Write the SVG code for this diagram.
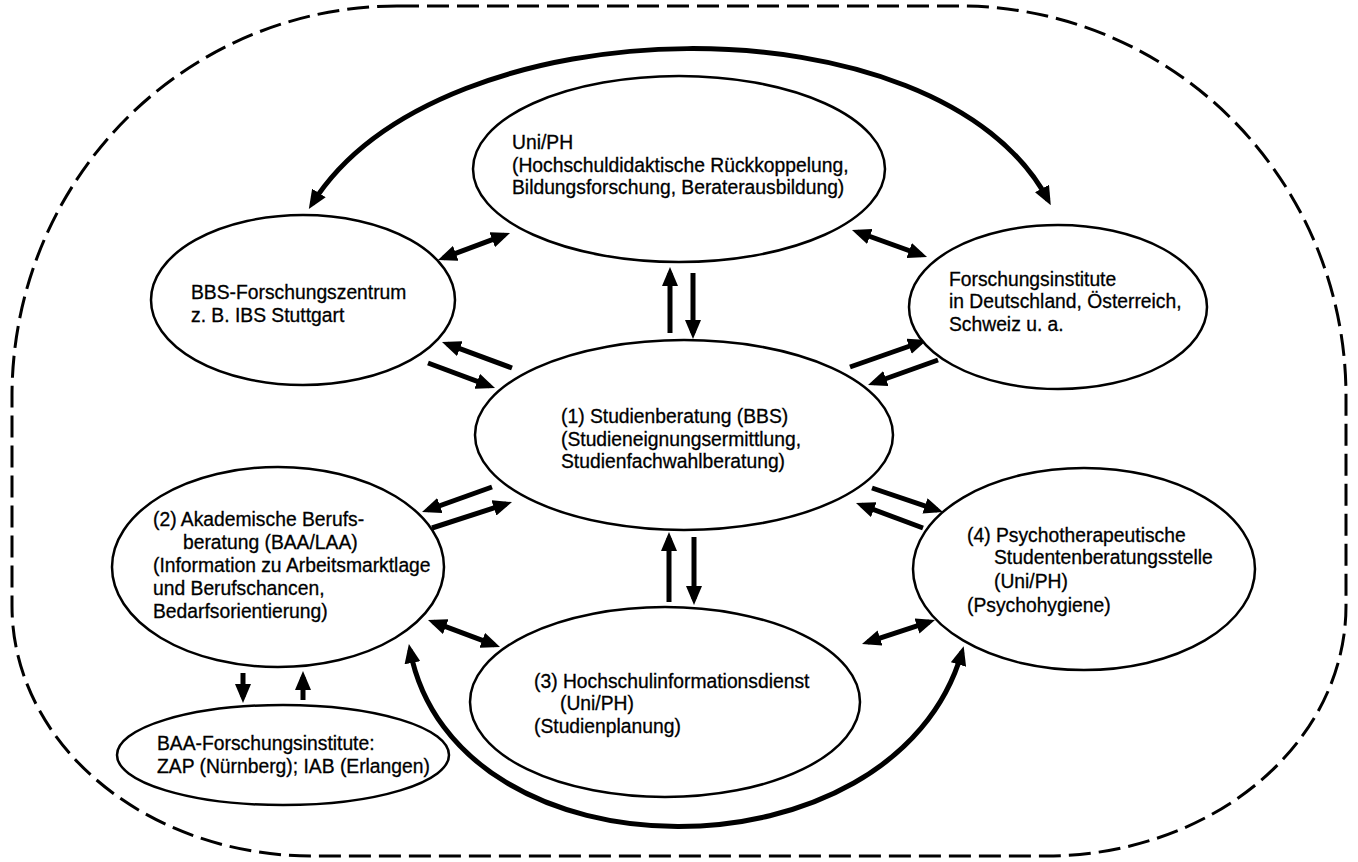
<svg xmlns="http://www.w3.org/2000/svg" width="1358" height="862" viewBox="0 0 1358 862">
<style>
.bg{fill:#fff}
.border{fill:none;stroke:#000;stroke-width:3;stroke-dasharray:22 8}
.node ellipse{fill:#fff;stroke:#000;stroke-width:2.5}
.node text{font-family:"Liberation Sans",Arial,sans-serif;font-size:19.3px;fill:#000;stroke:#000;stroke-width:0.3}
.con path{fill:none;stroke:#000;stroke-width:5}
.one path{marker-end:url(#ah)}
.two path{marker-start:url(#ah);marker-end:url(#ah)}
</style>
<defs>
<marker id="ah" markerUnits="userSpaceOnUse" viewBox="0 0 19 16" markerWidth="19" markerHeight="16" refX="13" refY="8" orient="auto-start-reverse">
<path d="M0,0 L19,8 L0,16 Z" fill="#000"/>
</marker>
</defs>
<rect class="bg" x="0" y="0" width="1358" height="862"/>
<path class="border" d="M397,6 H960 A386,390 0 0 1 1346,396 V606 A300,250 0 0 1 1046,856 H312 A300,250 0 0 1 12,606 V396 A385,390 0 0 1 397,6 Z"/>

<g id="connectors" class="con">
<g class="two">
<path d="M312,204 C440,0 940,-5 1048,200"/>
<path d="M410,650 C455,885 895,885 962,652"/>
<path d="M443.6,257.9 L504.4,235.1"/>
<path d="M857.6,232 L921.4,255"/>
<path d="M433.6,622.1 L494.4,644.9"/>
<path d="M867.7,642.1 L929.3,621.9"/>
</g>
<g class="one">
<path d="M670,333 V273"/>
<path d="M693,273 V333"/>
<path d="M512,368 L447.6,344.1"/>
<path d="M428,363 L489.4,385.9"/>
<path d="M850,367 L921.3,342"/>
<path d="M938,360 L873.7,383"/>
<path d="M492,487 L427.7,510"/>
<path d="M432,528 L506.3,503.9"/>
<path d="M872,488 L937.3,510.1"/>
<path d="M923,528 L861.6,505.1"/>
<path d="M669,602 V538"/>
<path d="M694,537 V599"/>
<path d="M243,673 V697"/>
<path d="M303,700 V677"/>
</g>
</g>

<g id="node-uni" class="node">
<ellipse cx="679" cy="169" rx="206" ry="93"/>
<text x="512" y="149">Uni/PH</text>
<text x="512" y="172">(Hochschuldidaktische Rückkoppelung,</text>
<text x="512" y="194">Bildungsforschung, Beraterausbildung)</text>
</g>

<g id="node-bbs" class="node">
<ellipse cx="303" cy="300" rx="152" ry="85"/>
<text x="191" y="299">BBS-Forschungszentrum</text>
<text x="191" y="322">z. B. IBS Stuttgart</text>
</g>

<g id="node-forschung" class="node">
<ellipse cx="1058" cy="307" rx="149" ry="82"/>
<text x="949" y="286">Forschungsinstitute</text>
<text x="949" y="308">in Deutschland, Österreich,</text>
<text x="949" y="331">Schweiz u. a.</text>
</g>

<g id="node-1" class="node">
<ellipse cx="684" cy="435" rx="209" ry="95"/>
<text x="561" y="423">(1) Studienberatung (BBS)</text>
<text x="561" y="446">(Studieneignungsermittlung,</text>
<text x="561" y="468">Studienfachwahlberatung)</text>
</g>

<g id="node-2" class="node">
<ellipse cx="278" cy="567" rx="166" ry="100"/>
<text x="153" y="526">(2) Akademische Berufs-</text>
<text x="183" y="549">beratung (BAA/LAA)</text>
<text x="153" y="572">(Information zu Arbeitsmarktlage</text>
<text x="153" y="595">und Berufschancen,</text>
<text x="153" y="618">Bedarfsorientierung)</text>
</g>

<g id="node-4" class="node">
<ellipse cx="1084" cy="569" rx="171" ry="101"/>
<text x="967" y="542">(4) Psychotherapeutische</text>
<text x="994" y="564">Studentenberatungsstelle</text>
<text x="994" y="588">(Uni/PH)</text>
<text x="967" y="612">(Psychohygiene)</text>
</g>

<g id="node-3" class="node">
<ellipse cx="665" cy="702" rx="195" ry="95"/>
<text x="534" y="688">(3) Hochschulinformationsdienst</text>
<text x="560" y="710">(Uni/PH)</text>
<text x="534" y="733">(Studienplanung)</text>
</g>

<g id="node-baa" class="node">
<ellipse cx="283" cy="755" rx="166" ry="50"/>
<text x="157" y="750">BAA-Forschungsinstitute:</text>
<text x="157" y="773">ZAP (Nürnberg); IAB (Erlangen)</text>
</g>
</svg>
